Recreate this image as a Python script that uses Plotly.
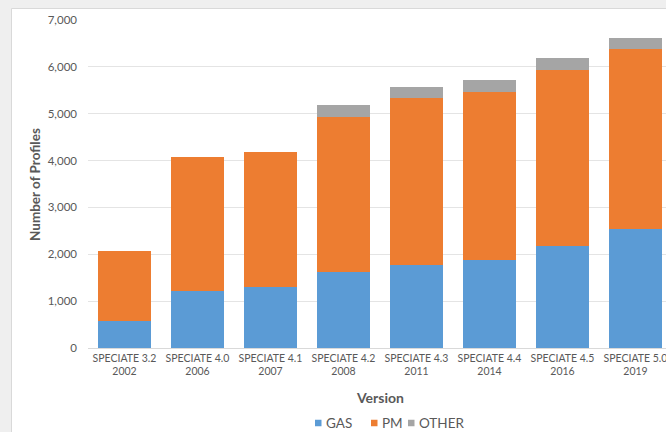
import plotly.graph_objects as go

versions = ["SPECIATE 3.2<br>2002", "SPECIATE 4.0<br>2006", "SPECIATE 4.1<br>2007",
            "SPECIATE 4.2<br>2008", "SPECIATE 4.3<br>2011", "SPECIATE 4.4<br>2014",
            "SPECIATE 4.5<br>2016", "SPECIATE 5.0<br>2019"]
gas = [580, 1220, 1310, 1620, 1780, 1870, 2170, 2530]
pm = [1480, 2860, 2870, 3320, 3550, 3590, 3760, 3850]
other = [0, 0, 0, 240, 250, 250, 250, 235]

series_names = ["GAS", "PM", "OTHER"]
series_colors = ["#5b9bd5", "#ed7d31", "#a5a5a5"]

FONT = "Lato"
TXT = "#595959"

fig = go.Figure()
for name, vals, col in zip(series_names, [gas, pm, other], series_colors):
    fig.add_trace(go.Bar(name=name, x=versions, y=vals, marker_color=col,
                         marker_line_width=0, showlegend=False))

L, R, T, B = 88, 0, 20, 84
W, H = 666, 432
pw = W - L - R
ph = H - T - B

def px_x(p):
    return (p - L) / pw

def px_y(p):
    return (H - B - p) / ph

# manual legend (Excel-style compact)
legend_sq_x = [315, 371, 408]
legend_txt_x = [324, 380, 417]
legend_y = 423
shapes = [dict(type="rect", xref="paper", yref="paper", layer="below",
               x0=px_x(11.5), x1=px_x(700), y0=px_y(460), y1=px_y(8.5),
               fillcolor="white", line=dict(color="#d9d9d9", width=1))]
annotations = [
    dict(text="<b>Number of Profiles</b>", xref="paper", yref="paper",
         x=px_x(35), y=px_y(185), textangle=-90, showarrow=False,
         font=dict(size=13.5, color=TXT), xanchor="center", yanchor="middle"),
    dict(text="<b>Version</b>", xref="paper", yref="paper",
         x=px_x(380), y=px_y(397), showarrow=False,
         font=dict(size=14, color=TXT), xanchor="center", yanchor="middle"),
]
for name, col, sx, tx in zip(series_names, series_colors, legend_sq_x, legend_txt_x):
    shapes.append(dict(type="rect", xref="paper", yref="paper", layer="above",
                       x0=px_x(sx), x1=px_x(sx + 6.5), y0=px_y(legend_y + 3.25), y1=px_y(legend_y - 3.25),
                       fillcolor=col, line=dict(width=0)))
    annotations.append(dict(text=name, xref="paper", yref="paper", x=px_x(tx), y=px_y(legend_y),
                            showarrow=False, xanchor="left", yanchor="middle",
                            font=dict(size=13.5, color=TXT)))

fig.update_layout(
    width=W, height=H,
    margin=dict(l=L, r=R, t=T, b=B, pad=0),
    barmode="stack",
    bargap=0.274,
    paper_bgcolor="#efefef",
    plot_bgcolor="white",
    font=dict(family=FONT, color=TXT, size=11),
    showlegend=False,
    xaxis=dict(range=[-0.5, 7.418], showgrid=False, showline=True, linecolor="#d9d9d9",
               ticks="", tickfont=dict(size=10.5, color=TXT), fixedrange=True, automargin=False),
    yaxis=dict(range=[0, 7000], dtick=1000, tickformat=",", gridcolor="#e4e4e4",
               gridwidth=1, zeroline=False, ticks="", ticklabelstandoff=10,
               tickfont=dict(size=11.5, color=TXT), automargin=False),
    shapes=shapes,
    annotations=annotations,
)

fig.write_html("out.html")
